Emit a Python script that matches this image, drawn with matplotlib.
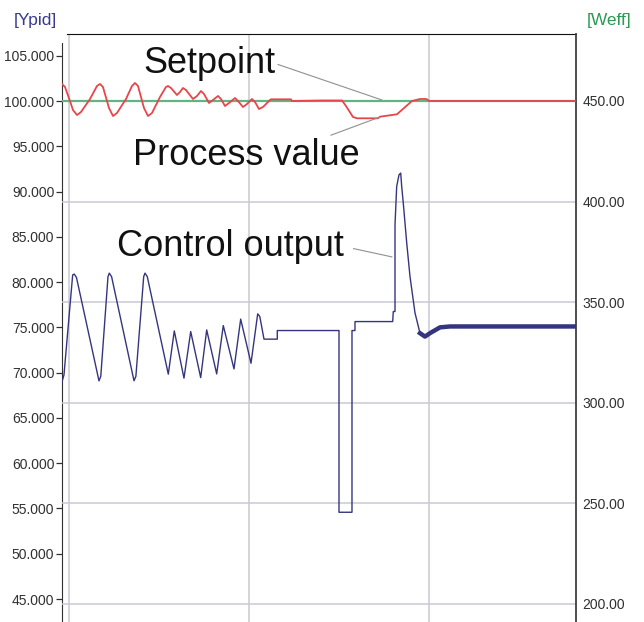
import numpy as np
import matplotlib
matplotlib.use("Agg")
import matplotlib.pyplot as plt

# time axis in seconds, grid every 60 s
t_pv = [-2.33, -1.33, 0.33, 1.33, 2.67, 4.0, 7.0, 9.33, 10.33, 11.33, 13.33, 14.67,
        16.0, 19.0, 21.0, 22.0, 23.0, 25.0, 26.33, 27.67, 30.33, 32.33, 33.0, 34.0,
        36.0, 37.0, 38.0, 39.0, 41.33, 42.67, 44.0, 45.0, 46.67, 48.0, 49.67, 50.67,
        52.0, 53.33, 55.33, 56.33, 58.0, 59.33, 61.0, 62.0, 63.33, 64.67, 67.0, 67.33,
        74.0, 74.33, 84.33, 91.0, 92.33, 94.67, 96.0, 103.0, 103.67, 109.33, 111.67,
        114.33, 117.0, 119.0, 119.67, 120.0, 169.0]
pv = [458.45, 456.96, 450.0, 445.53, 443.04, 444.53, 450.99, 457.46, 458.45, 456.96,
      446.52, 442.54, 444.04, 450.99, 457.46, 458.95, 457.46, 446.52, 442.54, 444.04,
      451.99, 456.96, 457.46, 456.46, 452.98, 454.47, 456.46, 455.47, 450.99, 452.49,
      454.97, 453.48, 449.01, 450.50, 452.49, 450.99, 447.51, 449.01, 451.49, 450.0,
      447.02, 448.51, 450.99, 449.50, 446.02, 447.02, 450.50, 450.84, 450.84, 450.0,
      450.25, 450.25, 447.51, 442.05, 441.40, 441.40, 442.20, 443.40, 446.50, 450.0,
      451.0, 451.0, 450.50, 450.0, 450.0]

t_sp = [-2.33, 169.0]
sp = [450.0, 450.0]

t_co = [-2.33, -1.67, 1.23, 1.77, 2.5, 10.0, 10.6, 13.0, 13.43, 14.2, 21.67, 22.3,
        24.9, 25.33, 26.1, 33.1, 35.1, 38.33, 40.57, 43.9, 45.9, 49.23, 51.43, 55.0,
        57.23, 60.67, 62.9, 63.6, 65.0, 69.43, 69.43, 90.0, 90.0, 94.33, 94.33, 95.33,
        95.33, 107.9, 108.1, 108.67, 108.67, 109.23, 110.0, 110.57, 110.9, 111.43,
        112.57, 113.67, 115.33, 117.0]
co = [69.0, 69.75, 80.8, 80.88, 80.5, 69.09, 69.6, 80.6, 80.99, 80.6, 69.1, 69.6,
      80.6, 80.99, 80.6, 69.83, 74.61, 69.39, 74.54, 69.45, 74.72, 69.86, 75.20, 70.41,
      75.91, 71.04, 76.49, 76.2, 73.70, 73.70, 74.65, 74.65, 54.58, 54.58, 74.65, 74.65,
      75.64, 75.64, 76.75, 76.75, 86.33, 90.56, 91.85, 92.04, 90.56, 88.72,
      84.34, 80.61, 76.60, 74.36]
# noisy settled part, drawn as a thick band
t_co_tail = [117.0, 118.67, 120.33, 123.67, 127.0, 169.0]
co_tail = [74.36, 73.98, 74.36, 75.0, 75.1, 75.1]

left_ticks = np.arange(45, 106, 5)
right_ticks = np.arange(200, 451, 50)

fig = plt.figure(figsize=(6.44, 6.22), dpi=100)
ax = fig.add_axes([62/644, 0, (576-62)/644, (622-34)/622])
ax2 = ax.twinx()

ax.set_xlim(-2.33, 169.0)
ax.set_ylim(42.46, 107.40)
ax2.set_ylim(191.05, 483.3)

grid_c = '#c9c9d3'
ax.set_xticks([0, 60, 120])
ax.grid(axis='x', color=grid_c, lw=1.1)
ax.tick_params(axis='x', length=0, labelbottom=False)
ax2.set_yticks(right_ticks)
ax2.grid(axis='y', color=grid_c, lw=1.1)

ax2.plot(t_sp, sp, color='#5fb583', lw=1.6, zorder=2)
ax2.plot(t_pv, pv, color='#e8454a', lw=1.3, zorder=3)
ax2.plot(t_co, co, color='#35357f', lw=1.0, zorder=4, transform=ax.transData)
ax2.plot(t_co_tail, co_tail, color='#35357f', lw=3.2, zorder=4,
         transform=ax.transData)

tick_font = 'Liberation Sans'
ax.set_yticks(left_ticks)
ax.set_yticklabels(['%.3f' % v for v in left_ticks], family=tick_font, fontsize=10)
ax.tick_params(axis='y', length=4, width=0.9, pad=1.5, colors='#303030')
ax2.set_yticklabels(['%.2f' % v for v in right_ticks], family=tick_font, fontsize=10)
ax2.tick_params(axis='y', length=0, pad=4.5, colors='#303030')

for s in ['bottom', 'right']:
    ax.spines[s].set_visible(False)
for s in ['bottom', 'left', 'top']:
    ax2.spines[s].set_visible(False)
ax.spines['left'].set_bounds(42.46, 106.4)
ax.spines['left'].set_color('#303030')
ax.spines['top'].set_bounds(-0.67, 169.0)
ax.spines['top'].set_color('#101010')
ax2.spines['right'].set_color('#404040')
ax2.spines['right'].set_linewidth(1.3)

big = dict(fontsize=26, family='Liberation Sans', color='#111111')
line = dict(arrowstyle='-', color='#909090', lw=0.8, shrinkB=0)
ax2.annotate('Setpoint', xy=(104.33, 450.5), xytext=(143, 622-73),
             textcoords='figure pixels', ha='left', va='baseline',
             arrowprops=dict(line, relpos=(1, 0.5), shrinkA=0), **big)
ax2.annotate('Process value', xy=(103.67, 442.05), xytext=(133, 622-165),
             textcoords='figure pixels', ha='left', va='baseline',
             arrowprops=dict(line, relpos=(0.84, 1.0), shrinkA=0), **big)
ax2.annotate('Control output', xy=(107.67, 82.78), xytext=(117, 622-256),
             textcoords='figure pixels', ha='left', va='baseline',
             xycoords=ax.transData,
             arrowprops=dict(line, relpos=(1, 0.5), shrinkA=5), **big)

fig.text(14/644, 1-20/622, '[Ypid]', color='#3a3a90', fontsize=12.5,
         family='Liberation Sans', va='center', ha='left')
fig.text(587/644, 1-20/622, '[Weff]', color='#2a9a55', fontsize=12.5,
         family='Liberation Sans', va='center', ha='left')

fig.savefig('out.png', dpi=100)
